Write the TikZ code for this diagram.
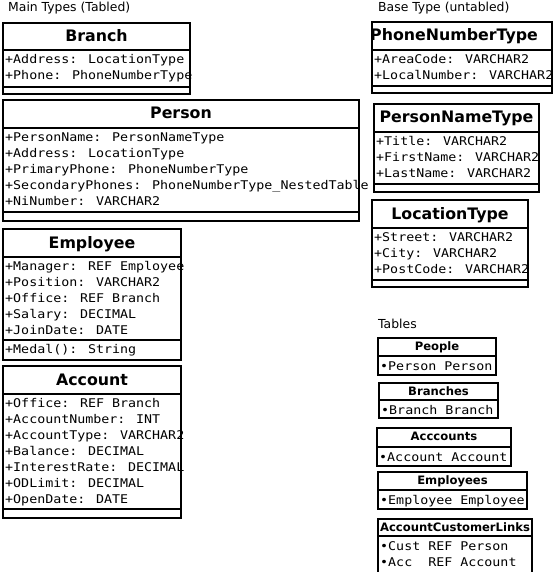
\documentclass[tikz,border=0pt]{standalone}
\usepackage{fontspec}
\setmainfont{DejaVu Sans}
\newfontfamily\umlmono[FakeStretch=1.11]{DejaVu Sans Mono}
\begin{document}
\begin{tikzpicture}[x=1pt,y=-1pt,
    box/.style={draw, line width=1.8pt},
    rule/.style={line width=1.8pt},
    heading/.style={font=\fontsize{12.4}{14}\selectfont, inner sep=0pt, anchor=base west},
    classname/.style={font=\fontsize{15.8}{18}\selectfont\bfseries, inner sep=0pt, anchor=base},
    tablename/.style={font=\fontsize{11.6}{14}\selectfont\bfseries, inner sep=0pt, anchor=base},
    attr/.style={font=\fontsize{12}{14}\umlmono, inner sep=0pt, anchor=base west}]
    % 画布大小 (像素为单位, y 向下)
    \useasboundingbox (0,0) rectangle (553,572);
    \clip (0,0) rectangle (553,572);

    % 分组标题
    \node[heading] (maintypes) at (8,12) {Main Types (Tabled)};
    \node[heading] (basetypes) at (378,12) {Base Type (untabled)};
    \node[heading] (tables) at (378,328.5) {Tables};

    % Branch
    \draw[box] (3,23) rectangle (190,94);
    \draw[rule] (3,50) -- (190,50) (3,87) -- (190,87);
    \node[classname] (branch) at (96.5,42) {Branch};
    \foreach \t [count=\i] in {+Address: LocationType, +Phone: PhoneNumberType}
        \node[attr] (branch-\i) at (5,47.5+16*\i) {\t};

    % Person
    \draw[box] (3,100) rectangle (359,221);
    \draw[rule] (3,128) -- (359,128) (3,212) -- (359,212);
    \node[classname] (person) at (181,119) {Person};
    \foreach \t [count=\i] in {+PersonName: PersonNameType, +Address: LocationType,
        +PrimaryPhone: PhoneNumberType, +SecondaryPhones: PhoneNumberType\_NestedTable,
        +NiNumber: VARCHAR2}
        \node[attr] (person-\i) at (5,125.5+16*\i) {\t};

    % Employee
    \draw[box] (3,229) rectangle (181,360);
    \draw[rule] (3,257) -- (181,257) (3,340) -- (181,340);
    \node[classname] (employee) at (92,248) {Employee};
    \foreach \t [count=\i] in {+Manager: REF Employee, +Position: VARCHAR2,
        +Office: REF Branch, +Salary: DECIMAL, +JoinDate: DATE}
        \node[attr] (employee-\i) at (5,254.5+16*\i) {\t};
    \node[attr] (employee-medal) at (5,353.5) {+Medal(): String};

    % Account
    \draw[box] (3,366) rectangle (181,518);
    \draw[rule] (3,394) -- (181,394) (3,509) -- (181,509);
    \node[classname] (account) at (92,385) {Account};
    \foreach \t [count=\i] in {+Office: REF Branch, +AccountNumber: INT,
        +AccountType: VARCHAR2, +Balance: DECIMAL, +InterestRate: DECIMAL,
        +ODLimit: DECIMAL, +OpenDate: DATE}
        \node[attr] (account-\i) at (5,391.5+16*\i) {\t};

    % PhoneNumberType
    \draw[box] (372,22) rectangle (552,93);
    \draw[rule] (372,50) -- (552,50) (372,86) -- (552,86);
    \node[classname] (phonetype) at (454,41) {PhoneNumberType};
    \foreach \t [count=\i] in {+AreaCode: VARCHAR2, +LocalNumber: VARCHAR2}
        \node[attr] (phonetype-\i) at (374,47.5+16*\i) {\t};

    % PersonNameType
    \draw[box] (374,104) rectangle (539,192);
    \draw[rule] (374,132) -- (539,132) (374,184) -- (539,184);
    \node[classname] (nametype) at (456.5,123) {PersonNameType};
    \foreach \t [count=\i] in {+Title: VARCHAR2, +FirstName: VARCHAR2, +LastName: VARCHAR2}
        \node[attr] (nametype-\i) at (376,129.5+16*\i) {\t};

    % LocationType
    \draw[box] (372,200) rectangle (528,287);
    \draw[rule] (372,228) -- (528,228) (372,280) -- (528,280);
    \node[classname] (loctype) at (450,219) {LocationType};
    \foreach \t [count=\i] in {+Street: VARCHAR2, +City: VARCHAR2, +PostCode: VARCHAR2}
        \node[attr] (loctype-\i) at (374,225.5+16*\i) {\t};

    % 表 (Tables)
    \draw[box] (378,338) rectangle (496,375);
    \draw[rule] (378,356) -- (496,356);
    \node[tablename] (people) at (437,350.5) {People};
    \node[attr] (people-1) at (380,370) {•Person Person};

    \draw[box] (379,383) rectangle (498,418);
    \draw[rule] (379,400) -- (498,400);
    \node[tablename] (branches) at (438.5,395.5) {Branches};
    \node[attr] (branches-1) at (381,414) {•Branch Branch};

    \draw[box] (377,428) rectangle (511,466);
    \draw[rule] (377,447) -- (511,447);
    \node[tablename] (accounts) at (444,440.5) {Acccounts};
    \node[attr] (accounts-1) at (379,461) {•Account Account};

    \draw[box] (378,472) rectangle (527,509);
    \draw[rule] (378,490) -- (527,490);
    \node[tablename] (employees) at (452.5,484.5) {Employees};
    \node[attr] (employees-1) at (380,504) {•Employee Employee};

    % 最后一个表被画布下边截断
    \draw[box] (378,519) rectangle (532,590);
    \draw[rule] (378,536) -- (532,536);
    \node[tablename] (links) at (455,531.5) {AccountCustomerLinks};
    \foreach \t [count=\i] in {•Cust REF Person, •Acc\ \ REF Account}
        \node[attr] (links-\i) at (380,534.5+16*\i) {\t};
\end{tikzpicture}
\end{document}
